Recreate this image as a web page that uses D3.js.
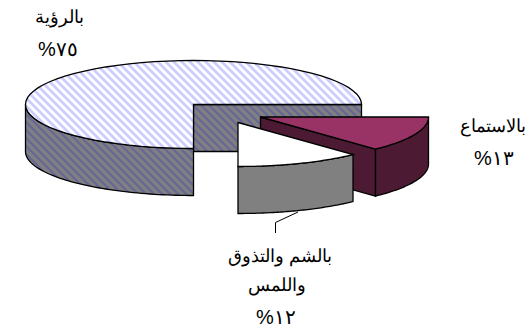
<!DOCTYPE html>
<html><head><meta charset="utf-8">
<script src="https://cdn.jsdelivr.net/npm/d3@7/dist/d3.min.js"></script>
<style>html,body{margin:0;padding:0;background:#fff}svg{display:block}
text{font-family:"Liberation Sans",Arial,sans-serif;font-size:18px;fill:#000;text-anchor:middle;direction:rtl}
text.pct{font-size:20px;letter-spacing:3px}</style>
</head><body><svg id="c" width="529" height="328"></svg>
<script>
const categories=["بالاستماع","بالشم والتذوق","بالرؤية"];
const values=[13,12,75];
const percentLabels=["١٣%","١٢%","٧٥%"];

const svg=d3.select("#c");
const defs=svg.append("defs");
function stripes(id,bg,fg,w){
  const p=defs.append("pattern").attr("id",id).attr("patternUnits","userSpaceOnUse")
    .attr("width",8).attr("height",8);
  p.append("rect").attr("width",8).attr("height",8).attr("fill",bg);
  p.append("path").attr("d","M-2,6L2,10M-2,-2L10,10M6,-2L10,2")
    .attr("stroke",fg).attr("stroke-width",w);
}
stripes("topHatch","#ffffff","#ccccff",2.8);
stripes("wallHatch","#808080","#666699",2.2);

const pie=d3.pie().sort(null).startAngle(Math.PI/2).endAngle(Math.PI*2.5);
const arcs=pie(values);
const rx=d3.scaleLinear().domain([0,1]).range([0,168]);
const ry=d3.scaleLinear().domain([0,1]).range([0,44]);
const depth=47;
const line=d3.line();
const pt=(c,a)=>[c[0]+rx(Math.sin(a)),c[1]-ry(Math.cos(a))];
function arcPts(c,a0,a1){return d3.range(61).map(i=>pt(c,a0+(a1-a0)*i/60));}
const down=p=>[p[0],p[1]+depth];
function draw(pts,fill){
  svg.append("path").attr("d",line(pts)+"Z").attr("fill",fill)
    .attr("stroke","#000").attr("stroke-width",1.3).attr("stroke-linejoin","miter");
}
const centers=[[260.5,117],[238,122.5],[193.5,104.5]];

{
  const c=centers[2],a=arcs[2];
  draw([c,pt(c,a.endAngle),down(pt(c,a.endAngle)),down(c)],"url(#wallHatch)");
  const rim=arcPts(c,a.startAngle,Math.PI*1.5);
  draw(rim.concat(rim.slice().reverse().map(down)),"url(#wallHatch)");
  draw([c].concat(arcPts(c,a.startAngle,a.endAngle)),"url(#topHatch)");
}
{
  const c=centers[0],a=arcs[0];
  const e=pt(c,a.endAngle);
  draw([c,e,down(e),down(c)],"#4d1a33");
  const rim=arcPts(c,a.startAngle,a.endAngle);
  draw(rim.concat(rim.slice().reverse().map(down)),"#4d1a33");
  draw([c].concat(rim),"#993366");
}
{
  const c=centers[1],a=arcs[1];
  const rim=arcPts(c,a.startAngle,a.endAngle);
  draw(rim.concat(rim.slice().reverse().map(down)),"#808080");
  draw([c].concat(rim),"#ffffff");
}
svg.append("path").attr("d",line([[298,212],[275.5,222.5],[275.5,233]]))
  .attr("fill","none").attr("stroke","#000").attr("stroke-width",1);

function label(x,y,t,cls){svg.append("text").attr("x",x).attr("y",y).attr("class",cls||null).text(t);}
label(59,23,categories[2]);label(58,56,percentLabels[2],"pct");
label(493,132,categories[0]);label(494,165,percentLabels[0],"pct");
label(280,262,categories[1]);
label(277,291,"واللمس");label(276,324,percentLabels[1],"pct");
</script></body></html>
